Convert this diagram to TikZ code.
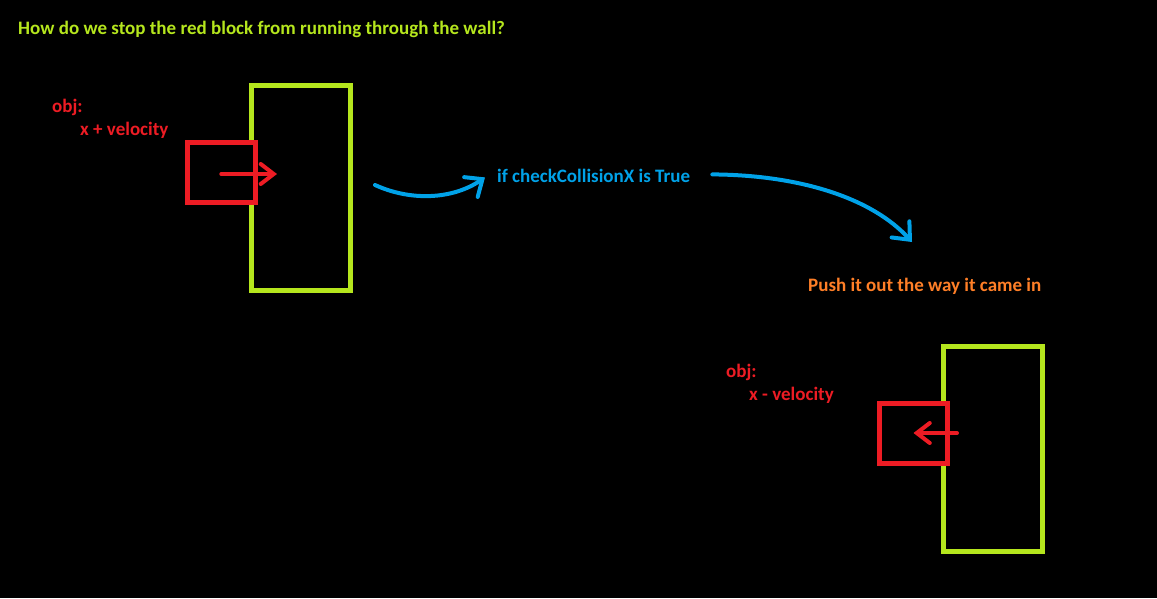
\documentclass[tikz,border=0pt]{standalone}
\usepackage{fontspec}
\setmainfont{Carlito}
\usetikzlibrary{arrows.meta,positioning}
\definecolor{paintlime}{HTML}{B5E61D}
\definecolor{paintred}{HTML}{ED1C24}
\definecolor{paintblue}{HTML}{00A2E8}
\definecolor{paintorange}{HTML}{FF7F27}
\tikzset{
  wall/.style     = {draw=paintlime, line width=5pt, minimum width=99pt, minimum height=205pt, inner sep=0pt},
  block/.style    = {draw=paintred, fill=black, line width=5pt, minimum width=68pt, minimum height=60pt, inner sep=0pt},
  push/.style     = {paintred, line width=4pt, line cap=round, -{Straight Barb[length=13pt,width=20pt,line cap=round]}},
  flow/.style     = {paintblue, line width=4pt, line cap=round, -{Straight Barb[length=14pt,width=24pt,line cap=round]}},
  note/.style     = {font=\bfseries\fontsize{19}{22}\selectfont, anchor=base west, inner sep=0pt},
}

\begin{document}
\begin{tikzpicture}[x=1pt,y=-1pt]
      \fill[black] (0,0) rectangle (1157,598);
      \useasboundingbox (0,0) rectangle (1157,598);

      % before the check
      \node[note, paintlime] (title) at (18,34) {How do we stop the red block from running through the wall?};
      \node[wall] (wallA) at (301,188.25) {};
      \node[block] (blockA) at (221.25,172.25) {};
      \node[note, paintred] (objA) at (52,112) {obj:};
      \node[note, paintred] (velA) at (80,135) {x + velocity};
      \coordinate (pushA) at (277,174);
      \path (blockA.center |- pushA) edge[push] (pushA);

      % the check
      \node[note, paintblue] (cond) at (497,182) {if checkCollisionX is True};
      \coordinate (startA) at (375,185);
      \coordinate (endA) at ([xshift=-12pt,yshift=-2pt]cond.west);
      \draw[flow] (startA) .. controls (410,201) and (452,200) .. (endA);
      \coordinate (startB) at ([xshift=22pt,yshift=1pt]cond.east);
      \coordinate (endB) at (912,242);
      \draw[flow] (startB) .. controls (800,175) and (872,198) .. (endB);

      % after the check
      \node[note, paintorange] (fix) at (808,291) {Push it out the way it came in};
      \node[wall] (wallB) at (993,449.25) {};
      \node[block] (blockB) at (913.5,433.5) {};
      \node[note, paintred] (objB) at (726,377) {obj:};
      \node[note, paintred] (velB) at (749,400) {x - velocity};
      \coordinate (pushB) at (957,433);
      \path (pushB) edge[push] (blockB.center |- pushB);
\end{tikzpicture}
\end{document}
